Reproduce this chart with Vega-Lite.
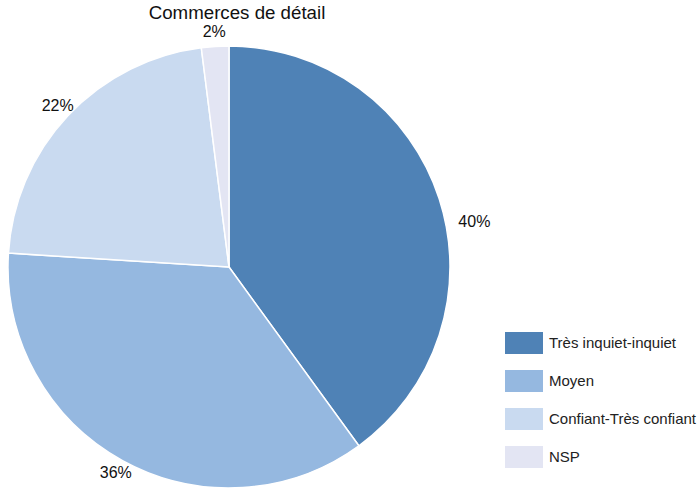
{
  "$schema": "https://vega.github.io/schema/vega-lite/v6.json",
  "autosize": "none",
  "width": 458,
  "height": 450,
  "padding": {"left": 0, "top": 42, "right": 241, "bottom": 0},
  "background": "white",
  "title": {"text": "Commerces de détail", "frame": "group", "font": "Liberation Sans", "fontSize": 18.7, "fontWeight": "normal", "color": "#111", "offset": 2, "dx": 8},
  "config": {"view": {"stroke": null}, "font": "Liberation Sans"},
  "data": {"values": [
    {"categorie": "Très inquiet-inquiet", "value": 40, "rang": 1, "label": "40%"},
    {"categorie": "Moyen", "value": 36, "rang": 2, "label": "36%"},
    {"categorie": "Confiant-Très confiant", "value": 22, "rang": 3, "label": "22%"},
    {"categorie": "NSP", "value": 2, "rang": 4, "label": "2%"}
  ]},
  "encoding": {
    "theta": {"field": "value", "type": "quantitative", "stack": true},
    "order": {"field": "rang", "type": "quantitative", "sort": "ascending"}
  },
  "layer": [
    {
      "mark": {"type": "arc", "outerRadius": 221, "stroke": "white", "strokeWidth": 1.5},
      "encoding": {
        "color": {
          "field": "categorie", "type": "nominal",
          "scale": {"domain": ["Très inquiet-inquiet", "Moyen", "Confiant-Très confiant", "NSP"], "range": ["#4F82B6", "#95B8E0", "#C9DAF0", "#E3E5F3"]},
          "legend": {
            "title": null, "orient": "none", "legendX": 505, "legendY": 282,
            "symbolType": "M-1,-0.58L1,-0.58L1,0.58L-1,0.58Z", "symbolSize": 1444, "symbolStrokeWidth": 0,
            "rowPadding": 7, "labelOffset": 6, "labelFontSize": 15, "labelFont": "Liberation Sans", "labelColor": "#222", "labelLimit": 300
          }
        }
      }
    },
    {
      "mark": {"type": "text", "radius": 235, "fontSize": 16, "font": "Liberation Sans", "color": "#111"},
      "encoding": {"text": {"condition": {"test": "datum.rang == 1", "value": ""}, "field": "label"}}
    },
    {
      "mark": {"type": "text", "radius": 258, "dy": 35, "fontSize": 16, "font": "Liberation Sans", "color": "#111"},
      "encoding": {"text": {"condition": {"test": "datum.rang != 1", "value": ""}, "field": "label"}}
    }
  ]
}
